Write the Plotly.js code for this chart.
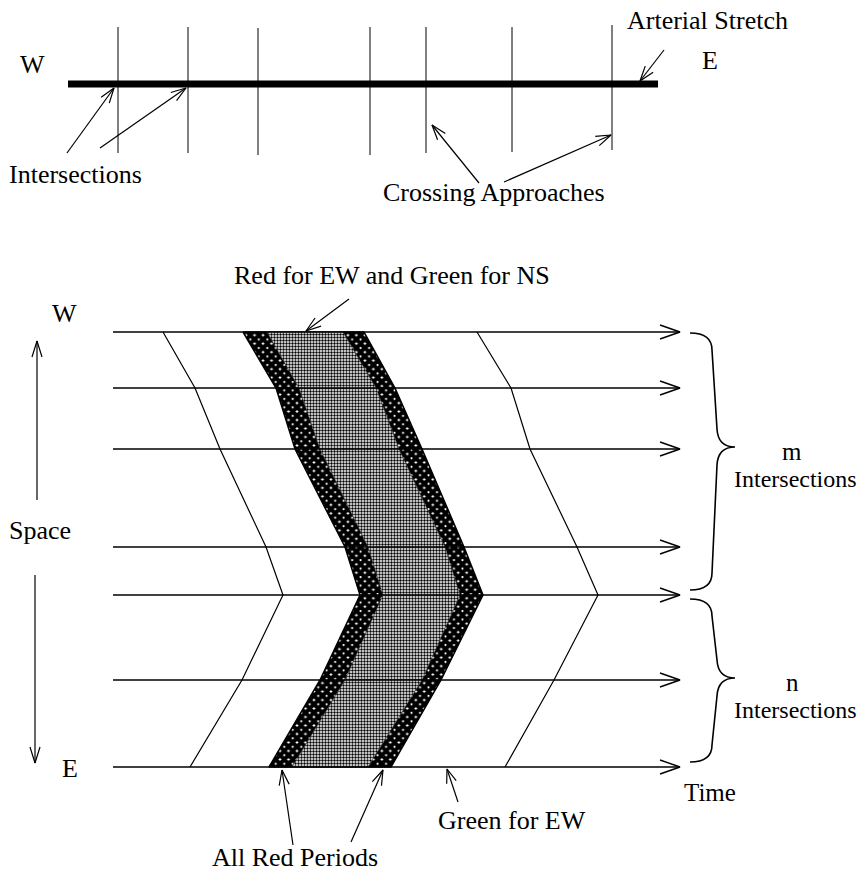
<!DOCTYPE html>
<html><head><meta charset="utf-8">
<script src="https://cdn.plot.ly/plotly-3.0.1.min.js"></script>
<style>html,body{margin:0;padding:0;background:#fff;overflow:hidden}#chart{width:864px;height:875px}</style>
</head><body><div id="chart"></div>
<script>
// ---------------- data ----------------
// time-space diagram: positions of the intersections along the artery (space axis)
const laneY = [332, 388, 449, 547, 595, 680, 767];
const laneStart = 113, laneEnd = 680;
// signal phase boundaries (time) at each intersection
const leftBoundary  = [163, 195, 220, 266, 283, 242, 190];
const redOuterLeft  = [243, 276, 295, 345, 360, 320, 269];
const redInnerLeft  = [267, 299, 320, 368, 383, 345, 292];
const redInnerRight = [343, 376, 399, 445, 460, 422, 368];
const redOuterRight = [364, 395, 422, 464, 483, 441, 391];
const rightBoundary = [477, 511, 530, 577, 598, 554, 505];
// arterial stretch sketch
const streetX = [68, 658];
const streetY = 84;
const crossX = [118, 188, 258, 370, 426, 512, 612];
const crossTop = [27, 27, 28, 27, 27, 27, 25];
const crossBottom = [153, 153, 155, 155, 153, 152, 150];
// brace groups (lane index ranges) and their labels
const groupFrom = [0, 4];
const groupTo = [4, 6];
const groupTip = [2, 5];
const groupLetter = ['m', 'n'];

// ---------------- helpers ----------------
const FONT = 'Liberation Serif, Times New Roman, serif';
function head(x0, y0, x1, y1, len, half) {
  const dx = x1 - x0, dy = y1 - y0, L = Math.hypot(dx, dy), ux = dx / L, uy = dy / L;
  const bx = x1 - ux * len, by = y1 - uy * len, px = -uy, py = ux;
  return [[bx + px * half, by + py * half], [x1, y1], [bx - px * half, by - py * half]];
}
function pushArrow(X, Y, x0, y0, x1, y1, len, half) {
  X.push(x0, x1, null); Y.push(y0, y1, null);
  const h = head(x0, y0, x1, y1, len, half);
  h.forEach(p => { X.push(p[0]); Y.push(p[1]); }); X.push(null); Y.push(null);
}
const rev = a => a.slice().reverse();

const traces = [];
// outer band: all-red periods
traces.push({x: redOuterLeft.concat(rev(redOuterRight), [redOuterLeft[0]]),
  y: laneY.concat(rev(laneY), [laneY[0]]), mode: 'lines', fill: 'toself',
  fillcolor: '#111', fillpattern: {shape: 'x', fgcolor: '#000', bgcolor: '#fff', size: 6, solidity: 0.9},
  line: {color: '#000', width: 1.5}, hoverinfo: 'skip'});
// inner band: red for EW / green for NS
traces.push({x: redInnerLeft.concat(rev(redInnerRight), [redInnerLeft[0]]),
  y: laneY.concat(rev(laneY), [laneY[0]]), mode: 'lines', fill: 'toself',
  fillcolor: '#999', fillpattern: {shape: '.', fgcolor: '#000', bgcolor: '#fff', size: 3, solidity: 0.5},
  line: {color: '#444', width: 0.6}, hoverinfo: 'skip'});

// lanes with arrowheads
const LX = [], LY = [];
laneY.forEach(y => pushArrow(LX, LY, laneStart, y, laneEnd, y, 20, 7));
traces.push({x: LX, y: LY, mode: 'lines', line: {color: '#000', width: 1.4}, hoverinfo: 'skip'});
// boundary lines
traces.push({x: leftBoundary, y: laneY, mode: 'lines', line: {color: '#000', width: 1.2}, hoverinfo: 'skip'});
traces.push({x: rightBoundary, y: laneY, mode: 'lines', line: {color: '#000', width: 1.2}, hoverinfo: 'skip'});

// arterial sketch
traces.push({x: streetX, y: [streetY, streetY], mode: 'lines', line: {color: '#000', width: 7}, hoverinfo: 'skip'});
const CX = [], CY = [];
crossX.forEach((x, i) => { CX.push(x, x, null); CY.push(crossTop[i], crossBottom[i], null); });
traces.push({x: CX, y: CY, mode: 'lines', line: {color: '#000', width: 1}, hoverinfo: 'skip'});

// pointer arrows
const PX = [], PY = [];
pushArrow(PX, PY, 67, 153, 114, 88, 15, 5);
pushArrow(PX, PY, 100, 148, 186, 88, 15, 5);
pushArrow(PX, PY, 479, 183, 432, 125, 15, 5);
pushArrow(PX, PY, 504, 182, 611, 135, 15, 5);
pushArrow(PX, PY, 664, 50, 640, 81, 15, 5);
pushArrow(PX, PY, 349, 299, 306, 331, 15, 5);
pushArrow(PX, PY, 293, 845, 282, 770, 15, 5);
pushArrow(PX, PY, 351, 842, 383, 770, 15, 5);
pushArrow(PX, PY, 458, 802, 447, 769, 14, 5);
pushArrow(PX, PY, 37, 500, 37, 341, 16, 5);
pushArrow(PX, PY, 35, 575, 35, 763, 16, 5);
traces.push({x: PX, y: PY, mode: 'lines', line: {color: '#000', width: 1.2}, hoverinfo: 'skip'});

// braces
const shapes = [];
groupFrom.forEach((a, i) => {
  const x = 690, yTop = laneY[a] + (i === 1 ? 4 : 1), yB = laneY[groupTo[i]] - 5;
  const yM = laneY[groupTip[i]] - 2, d = 45;
  const p = `M ${x},${yTop} Q ${x + 22},${yTop} ${x + 22},${yTop + 17} L ${x + 27},${yM - 18} Q ${x + 28},${yM} ${x + d},${yM} ` +
            `Q ${x + 28},${yM} ${x + 27},${yM + 18} L ${x + 22},${yB - 17} Q ${x + 22},${yB} ${x},${yB}`;
  shapes.push({type: 'path', xref: 'x', yref: 'y', path: p, line: {color: '#000', width: 1.6}});
});

// text
const txt = (x, y, t, size) => ({x, y, xref: 'x', yref: 'y', text: t, showarrow: false,
  xanchor: 'center', yanchor: 'middle', font: {family: FONT, size: size || 26, color: '#000'}});
const annotations = [
  txt(32, 64, 'W'), txt(710, 60, 'E'), txt(707, 20, 'Arterial Stretch'),
  txt(75, 174, 'Intersections'), txt(494, 192, 'Crossing Approaches'),
  txt(392, 275, 'Red for EW and Green for NS'),
  txt(64, 313, 'W'), txt(70, 768, 'E'), txt(40, 530, 'Space'),
  txt(710, 792, 'Time', 25),
  txt(512, 820, 'Green for EW'), txt(295, 857, 'All Red Periods'),
];
groupFrom.forEach((a, i) => {
  const yM = laneY[groupTip[i]];
  annotations.push(txt(792, yM + 2, groupLetter[i], 25));
  annotations.push(txt(795, yM + 30, 'Intersections', 24));
});

const layout = {
  width: 864, height: 875, margin: {l: 0, r: 0, t: 0, b: 0, pad: 0},
  paper_bgcolor: '#fff', plot_bgcolor: '#fff', showlegend: false,
  xaxis: {range: [0, 864], visible: false, fixedrange: true},
  yaxis: {range: [875, 0], visible: false, fixedrange: true},
  shapes, annotations
};
Plotly.newPlot('chart', traces, layout, {staticPlot: true, displayModeBar: false});
</script></body></html>
